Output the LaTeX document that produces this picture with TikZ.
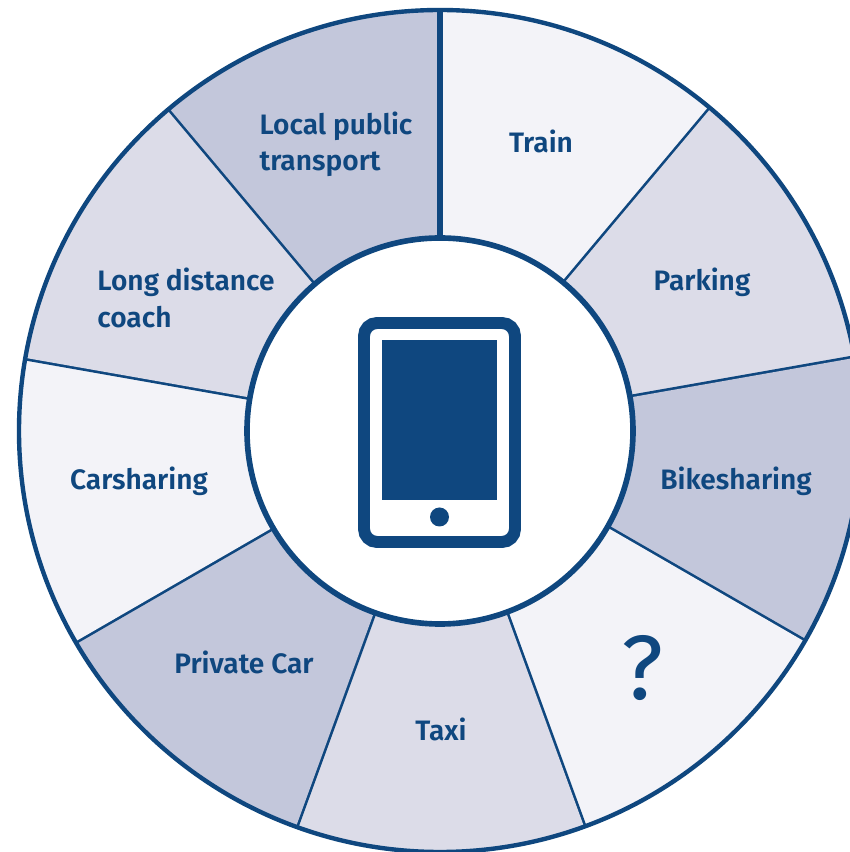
\documentclass[tikz,border=0pt]{standalone}
\usepackage{fontspec}
\setmainfont[UprightFont=* Medium,BoldFont=* SemiBold]{Fira Sans}
\newfontfamily\qmarkfont{Fira Sans}
\definecolor{appblue}{HTML}{0F477F}
\definecolor{segone}{HTML}{F3F3F8}
\definecolor{segtwo}{HTML}{DCDCE8}
\definecolor{segthree}{HTML}{C3C7DB}
\tikzset{
 seglabel/.style={text=appblue,font=\fontsize{8}{10.3}\selectfont\bfseries,align=left,inner sep=0pt}
}

\begin{document}
\begin{tikzpicture}
   \clip (-4.40,-4.21) rectangle (4.10,4.31);
   \fill[white] (-4.40,-4.21) rectangle (4.10,4.31);
   \foreach \a/\c in {50/segone,10/segtwo,-30/segthree,-70/segone,-110/segtwo,-150/segthree,-190/segone,-230/segtwo,-270/segthree} {
    \fill[\c] (0,0) -- (\a:4.21) arc({\a}:{\a+40}:4.21) -- cycle;
    \draw[appblue,line width=1.5pt] (\a:1.93) -- (\a:4.21);
   }
   \draw[appblue,line width=1.25pt] (0,0) circle(4.21);
   \draw[appblue,line width=1.6pt,fill=white] (0,0) circle(1.93);
   % tablet
   \draw[appblue,line width=3.4pt,rounded corners=0.13cm] (-0.76,-1.11) rectangle (0.75,1.08);
   \fill[appblue] (-0.58,-0.69) rectangle (0.57,0.91);
   \fill[appblue] (-0.005,-0.86) circle(0.095);
   % labels
   \node[seglabel] (train) at (1.01,2.90) {Train};
   \node[seglabel] (parking) at (2.62,1.49) {Parking};
   \node[seglabel] (bikesharing) at (2.96,-0.50) {Bikesharing};
   \node[seglabel,font=\fontsize{26}{27}\selectfont\qmarkfont] (unknown) at (2.02,-2.37) {?};
   \node[seglabel] (taxi) at (0.01,-2.98) {Taxi};
   \node[seglabel] (privatecar) at (-1.96,-2.31) {Private Car};
   \node[seglabel] (carsharing) at (-3.01,-0.50) {Carsharing};
   \node[seglabel] (longdistance) at (-2.54,1.33) {Long distance\\coach};
   \node[seglabel] (localpublic) at (-1.04,2.87) {Local public\\transport};
  \end{tikzpicture}
\end{document}
